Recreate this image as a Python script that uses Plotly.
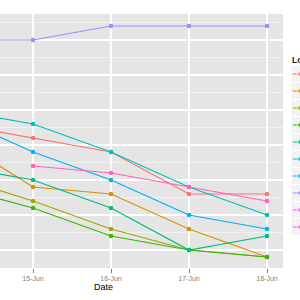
import plotly.graph_objects as go

# ---- data -------------------------------------------------------------
dates = ["2014-06-14", "2014-06-15", "2014-06-16", "2014-06-17", "2014-06-18"]
location_names = ["Loc 1", "Loc 2", "Loc 3", "Loc 4", "Loc 5",
                  "Loc 6", "Loc 7", "Loc 8", "Loc 9", "Loc 10"]
loc1 = [36, 32, 28, 16, 16]
loc2 = [32, 18, 16, 6, -2]
loc3 = [21, 14, 6, 0, -2]
loc4 = [18, 12, 4, 0, -2]
loc5 = [24, 20, 12, 0, 4]
loc6 = [40, 36, 28, 18, 10]
loc7 = [38, 28, 20, 10, 6]
loc8 = [60, 60, 64, 64, 64]
loc9 = [30, None, None, None, None]
loc10 = [None, 24, 22, 18, 14]
series = [loc1, loc2, loc3, loc4, loc5, loc6, loc7, loc8, loc9, loc10]
colors = ["#F8766D", "#D89000", "#A3A500", "#39B600", "#00BF7D",
          "#00BFC4", "#00B0F6", "#9590FF", "#E76BF3", "#FF62BC"]
legend_title = "Location"

# ---- figure -----------------------------------------------------------
W = H = 300
fig = go.Figure()

for name, vals, col in zip(location_names, series, colors):
    fig.add_trace(go.Scatter(
        x=dates, y=vals, mode="lines+markers", name=name,
        line=dict(color=col, width=1.2), marker=dict(color=col, size=4.5),
        showlegend=False, xaxis="x", yaxis="y"))

# manual legend keys (cropped at right edge like the reference)
for i, (name, col) in enumerate(zip(location_names, colors)):
    fig.add_trace(go.Scatter(
        x=[1.7, 8.5, 15.3], y=[i + 0.5] * 3, mode="lines+markers",
        line=dict(color=col, width=1.2), marker=dict(color=col, size=[0, 4.5, 0]),
        showlegend=False, xaxis="x2", yaxis="y2", hoverinfo="skip"))
    fig.add_shape(type="rect", xref="x2", yref="y2", x0=0, x1=17, y0=i, y1=i + 1,
                  fillcolor="#F2F2F2", line=dict(color="white", width=1), layer="below")

# panel background
fig.add_shape(type="rect", xref="x domain", yref="y domain", x0=0, x1=1, y0=0, y1=1,
              fillcolor="#E5E5E5", line=dict(width=0), layer="below")

panel_left, panel_right, panel_top, panel_bottom = 0, 283, 14, 268
leg_top, leg_bottom = 65.5, 235.5

fig.update_layout(
    width=W, height=H,
    margin=dict(l=0, r=0, t=0, b=0),
    paper_bgcolor="white", plot_bgcolor="white",
    font=dict(family="Liberation Sans, Arial, sans-serif"),
    showlegend=False,
    xaxis=dict(
        domain=[panel_left / W, panel_right / W], anchor="y",
        type="date",
        range=["2014-06-14 13:50:46", "2014-06-18 04:55:23"],
        tick0="2014-06-15", dtick=86400000, tickformat="%d-%b",
        showgrid=True, gridcolor="white", gridwidth=1.5,
        ticks="outside", ticklen=3.5, tickwidth=1, tickcolor="#7F7F7F",
        tickfont=dict(size=7, color="#7F7F7F"),
        zeroline=False, showline=False,
    ),
    yaxis=dict(
        domain=[(H - panel_bottom) / H, (H - panel_top) / H], anchor="x",
        range=[(250 - panel_bottom) / 3.5, (250 - panel_top) / 3.5],
        tick0=0, dtick=10,
        showgrid=True, gridcolor="white", gridwidth=1.5,
        minor=dict(dtick=5, tick0=0, showgrid=True, gridcolor="#F2F2F2", gridwidth=0.7),
        showticklabels=False, ticks="", zeroline=False, showline=False,
    ),
    xaxis2=dict(domain=[291 / W, 1], anchor="y2", range=[0, 9], visible=False),
    yaxis2=dict(domain=[(H - leg_bottom) / H, (H - leg_top) / H], anchor="x2",
                range=[10, 0], visible=False),
    annotations=[
        dict(text="Date", xref="paper", yref="paper", x=103 / W, y=(H - 286.7) / H,
             xanchor="center", yanchor="middle", showarrow=False,
             font=dict(size=9, color="black")),
        dict(text="<b>" + legend_title + "</b>", xref="paper", yref="paper",
             x=290 / W, y=(H - 60) / H, xanchor="left", yanchor="middle",
             showarrow=False, font=dict(size=8.5, color="#222222")),
    ],
)

fig.write_html("out.html")
